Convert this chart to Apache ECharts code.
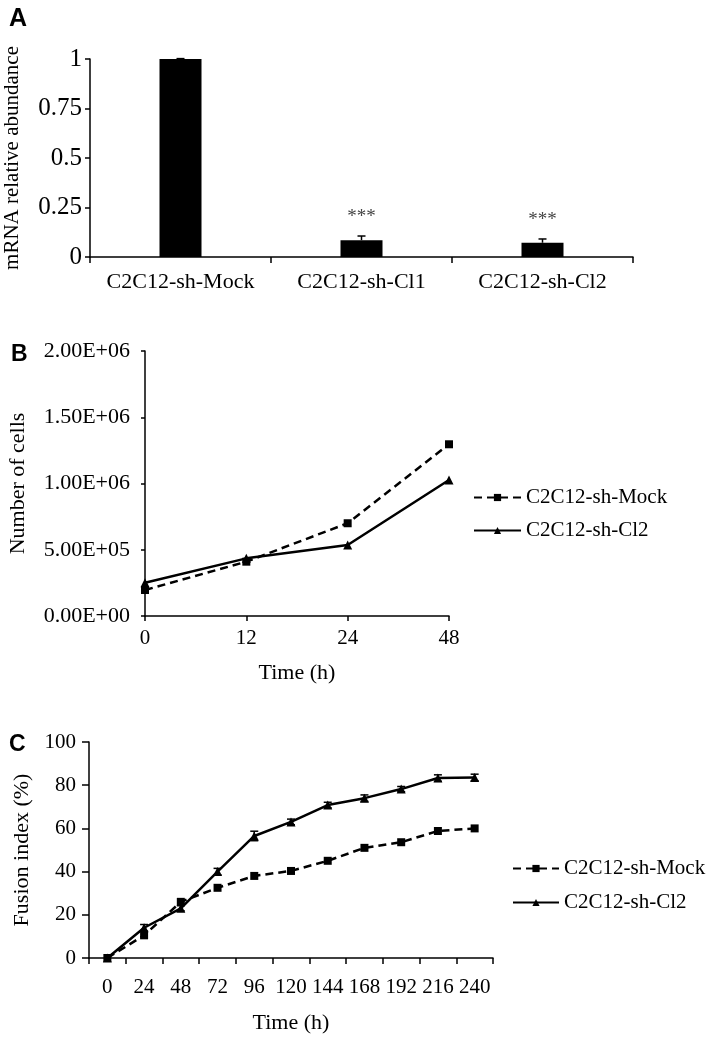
<!DOCTYPE html>
<html>
<head>
<meta charset="utf-8">
<script src="https://cdn.jsdelivr.net/npm/echarts@6/dist/echarts.min.js"></script>
<style>html,body{margin:0;padding:0;background:#fff;}#c{width:709px;height:1037px;}</style>
</head>
<body>
<div id="c"></div>
<script>
// ---- Data ----
var catsA = ['C2C12-sh-Mock', 'C2C12-sh-Cl1', 'C2C12-sh-Cl2'];
var mrna = [1, 0.085, 0.072];
var mrnaErr = [0.002, 0.021, 0.019];
var starsA = ['', '***', '***'];

var timeB = ['0', '12', '24', '48'];
var mockB = [196000, 410000, 700000, 1296000];
var cl2B = [251000, 435000, 536000, 1026000];

var timeC = ['0', '24', '48', '72', '96', '120', '144', '168', '192', '216', '240'];
var mockC = [0, 10.5, 26, 32.5, 38, 40.3, 45, 51, 53.6, 58.8, 60];
var cl2C = [0, 14, 23, 40, 56.5, 63, 70.8, 74, 78.2, 83.3, 83.6];
var cl2Err = [0, 1.5, 1.2, 1.5, 2.2, 1.3, 1.3, 1.5, 1.2, 1.5, 1.5];

var names = ['C2C12-sh-Mock', 'C2C12-sh-Cl2'];

// ---- Styles ----
var SERIF = 'Liberation Serif';
var axisLine = { show: true, lineStyle: { color: '#000', width: 1.5 } };
function sci(v) {
  if (v === 0) return '0.00E+00';
  var e = Math.floor(Math.log10(v) + 1e-9);
  var m = v / Math.pow(10, e);
  return m.toFixed(2) + 'E+' + (e < 10 ? '0' + e : e);
}

var chart = echarts.init(document.getElementById('c'));
var option = {
  backgroundColor: '#fff',
  animation: false,
  title: [
    { text: 'A', left: 9, top: 7, padding: 0, textStyle: { fontFamily: 'Liberation Sans', fontWeight: 'bold', fontSize: 25, color: '#000' } },
    { text: 'B', left: 11, top: 343, padding: 0, textStyle: { fontFamily: 'Liberation Sans', fontWeight: 'bold', fontSize: 23, color: '#000' } },
    { text: 'C', left: 9, top: 733, padding: 0, textStyle: { fontFamily: 'Liberation Sans', fontWeight: 'bold', fontSize: 23, color: '#000' } }
  ],
  grid: [
    { left: 90, top: 59, width: 543, height: 198, outerBoundsMode: 'none' },
    { left: 145, top: 351, width: 304, height: 265, outerBoundsMode: 'none' },
    { left: 89, top: 742, width: 404, height: 216, outerBoundsMode: 'none' }
  ],
  legend: [
    {
      data: names, orient: 'vertical', left: 473, top: 487, padding: 0, itemWidth: 47, itemHeight: 9, itemGap: 12,
      textStyle: { fontFamily: SERIF, fontSize: 21, color: '#000' }, selectedMode: false
    },
    {
      data: names, orient: 'vertical', left: 512, top: 858, padding: 0, itemWidth: 46, itemHeight: 9, itemGap: 13,
      textStyle: { fontFamily: SERIF, fontSize: 21, color: '#000' }, selectedMode: false
    }
  ],
  xAxis: [
    {
      gridIndex: 0, type: 'category', data: catsA, boundaryGap: true,
      axisLine: axisLine, axisTick: { show: true, length: 6, lineStyle: { color: '#000', width: 1.5 } },
      axisLabel: { interval: 0, margin: 14, fontFamily: SERIF, fontSize: 22, color: '#000' }
    },
    {
      gridIndex: 1, type: 'category', data: timeB, boundaryGap: false,
      axisLine: axisLine, axisTick: { show: true, length: 5, lineStyle: { color: '#000', width: 1.5 } },
      axisLabel: { margin: 12, fontFamily: SERIF, fontSize: 21, color: '#000' },
      name: 'Time (h)', nameLocation: 'middle', nameGap: 46,
      nameTextStyle: { fontFamily: SERIF, fontSize: 22, color: '#000' }
    },
    {
      gridIndex: 2, type: 'category', data: timeC, boundaryGap: true,
      axisLine: axisLine, axisTick: { show: true, length: 6, lineStyle: { color: '#000', width: 1.5 } },
      axisLabel: { margin: 19, fontFamily: SERIF, fontSize: 21, color: '#000', interval: 0 },
      name: 'Time (h)', nameLocation: 'middle', nameGap: 54,
      nameTextStyle: { fontFamily: SERIF, fontSize: 22, color: '#000' }
    }
  ],
  yAxis: [
    {
      gridIndex: 0, type: 'value', min: 0, max: 1, interval: 0.25,
      axisLine: axisLine, axisTick: { show: true, length: 5, lineStyle: { color: '#000', width: 1.5 } },
      splitLine: { show: false },
      axisLabel: { margin: 8, fontFamily: SERIF, fontSize: 25, color: '#000' },
      name: 'mRNA relative abundance', nameLocation: 'middle', nameGap: 67,
      nameTextStyle: { fontFamily: SERIF, fontSize: 21, color: '#000' }
    },
    {
      gridIndex: 1, type: 'value', min: 0, max: 2000000, interval: 500000,
      axisLine: axisLine, axisTick: { show: true, length: 4, lineStyle: { color: '#000', width: 1.5 } },
      splitLine: { show: false },
      axisLabel: { margin: 15, fontFamily: SERIF, fontSize: 22, color: '#000', formatter: sci },
      name: 'Number of cells', nameLocation: 'middle', nameGap: 116,
      nameTextStyle: { fontFamily: SERIF, fontSize: 22, color: '#000' }
    },
    {
      gridIndex: 2, type: 'value', min: 0, max: 100, interval: 20,
      axisLine: axisLine, axisTick: { show: true, length: 7, lineStyle: { color: '#000', width: 1.5 } },
      splitLine: { show: false },
      axisLabel: { margin: 13, fontFamily: SERIF, fontSize: 21, color: '#000' },
      name: 'Fusion index (%)', nameLocation: 'middle', nameGap: 56,
      nameTextStyle: { fontFamily: SERIF, fontSize: 22, color: '#000' }
    }
  ],
  series: [
    {
      type: 'bar', xAxisIndex: 0, yAxisIndex: 0, data: mrna, barWidth: 42,
      itemStyle: { color: '#000' }
    },
    {
      type: 'custom', xAxisIndex: 0, yAxisIndex: 0, z: 5,
      data: mrna.map(function (v, i) { return [i, v, mrnaErr[i]]; }),
      renderItem: function (params, api) {
        var i = params.dataIndex;
        var base = api.coord([api.value(0), api.value(1)]);
        var top = api.coord([api.value(0), api.value(1) + api.value(2)]);
        var st = { stroke: '#000', lineWidth: 1.5 };
        var ch = [
          { type: 'line', shape: { x1: base[0], y1: base[1], x2: top[0], y2: top[1] }, style: st },
          { type: 'line', shape: { x1: top[0] - 4, y1: top[1], x2: top[0] + 4, y2: top[1] }, style: st }
        ];
        if (starsA[i]) {
          ch.push({ type: 'text', style: { text: starsA[i], x: top[0], y: top[1] - 19, align: 'center', verticalAlign: 'middle', fontFamily: SERIF, fontSize: 19, fill: '#444' } });
        }
        return { type: 'group', children: ch };
      }
    },
    {
      name: names[0], type: 'line', xAxisIndex: 1, yAxisIndex: 1, data: mockB,
      symbol: 'rect', symbolSize: 8, lineStyle: { color: '#000', width: 2.5, type: [8, 5] },
      itemStyle: { color: '#000' }
    },
    {
      name: names[1], type: 'line', xAxisIndex: 1, yAxisIndex: 1, data: cl2B,
      symbol: 'triangle', symbolSize: 9, lineStyle: { color: '#000', width: 2.5, type: 'solid' },
      itemStyle: { color: '#000' }
    },
    {
      name: names[0], type: 'line', xAxisIndex: 2, yAxisIndex: 2, data: mockC,
      symbol: 'rect', symbolSize: 8, lineStyle: { color: '#000', width: 2.5, type: [8, 5] },
      itemStyle: { color: '#000' }
    },
    {
      name: names[1], type: 'line', xAxisIndex: 2, yAxisIndex: 2, data: cl2C,
      symbol: 'triangle', symbolSize: 9, lineStyle: { color: '#000', width: 2.5, type: 'solid' },
      itemStyle: { color: '#000' }
    },
    {
      type: 'custom', xAxisIndex: 2, yAxisIndex: 2, z: 5,
      data: cl2C.map(function (v, i) { return [i, v, cl2Err[i]]; }),
      renderItem: function (params, api) {
        var v = api.value(1), e = api.value(2);
        if (!e) return null;
        var hi = api.coord([api.value(0), v + e]);
        var lo = api.coord([api.value(0), v - e]);
        var st = { stroke: '#000', lineWidth: 1.5 };
        return {
          type: 'group', children: [
            { type: 'line', shape: { x1: hi[0], y1: hi[1], x2: lo[0], y2: lo[1] }, style: st },
            { type: 'line', shape: { x1: hi[0] - 4, y1: hi[1], x2: hi[0] + 4, y2: hi[1] }, style: st },
            { type: 'line', shape: { x1: lo[0] - 4, y1: lo[1], x2: lo[0] + 4, y2: lo[1] }, style: st }
          ]
        };
      }
    }
  ]
};
chart.setOption(option);
</script>
</body>
</html>
